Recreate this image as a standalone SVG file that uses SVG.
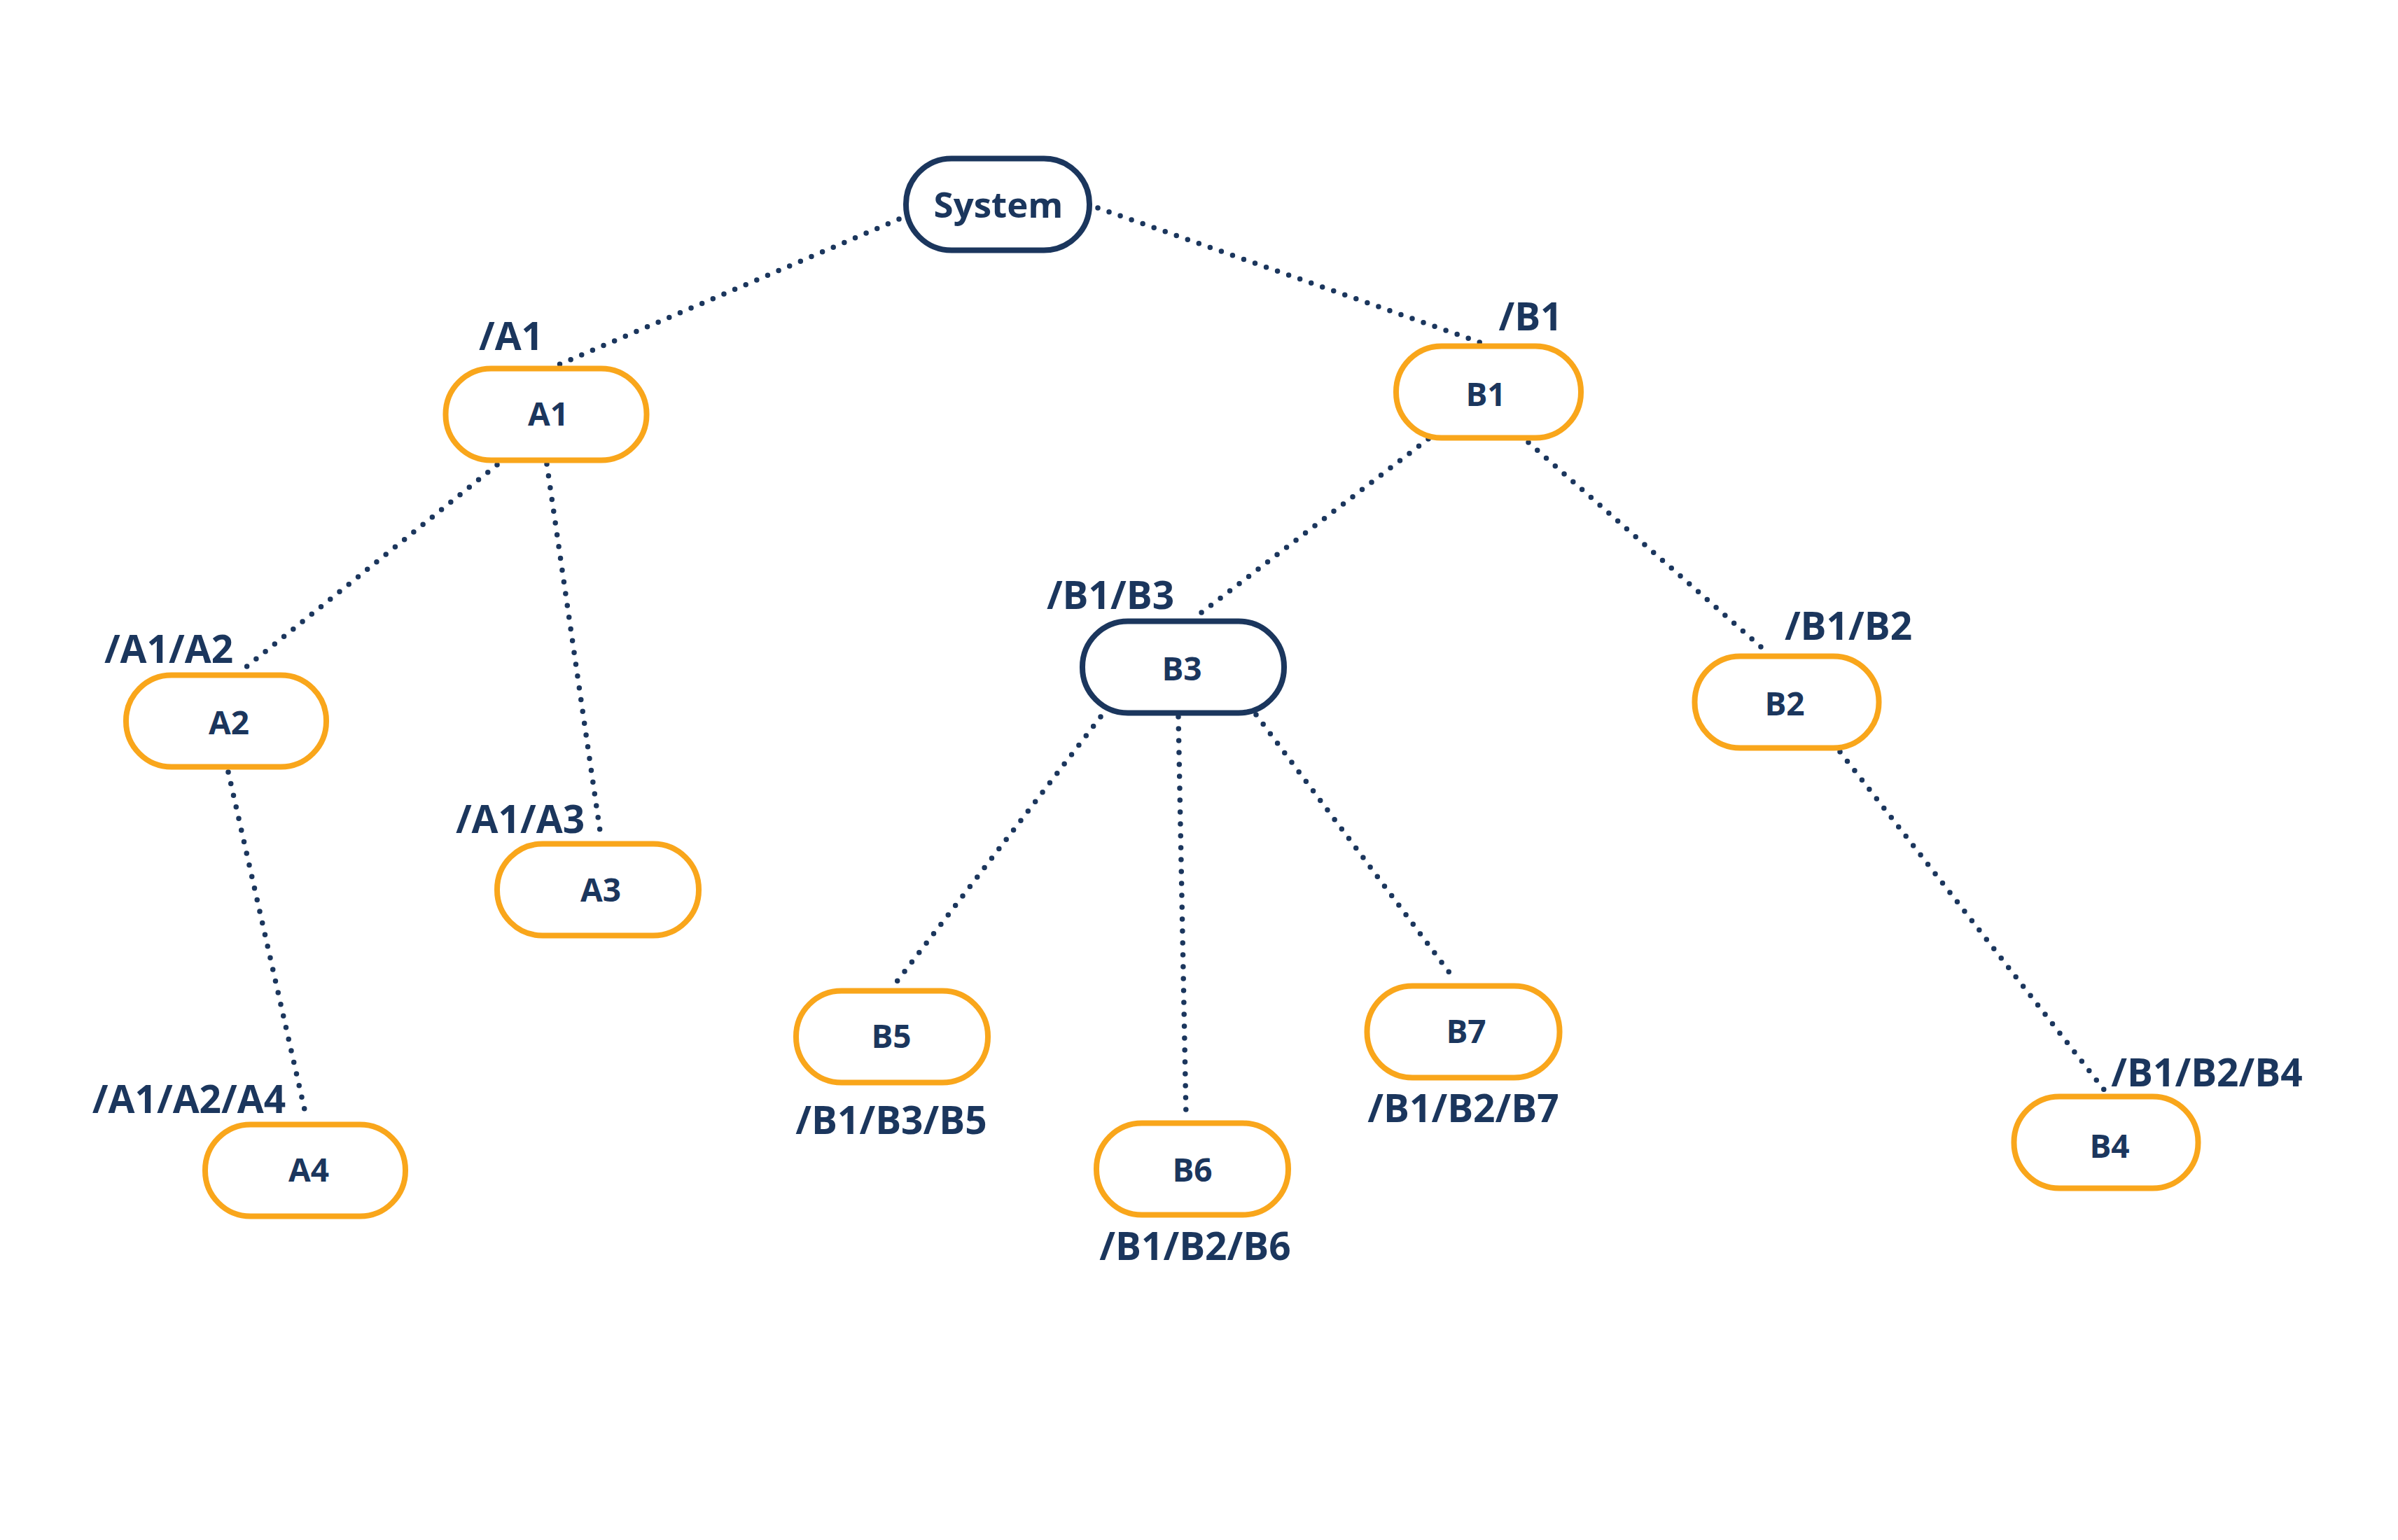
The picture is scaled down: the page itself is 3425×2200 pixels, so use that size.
<svg xmlns="http://www.w3.org/2000/svg" width="3425" height="2200" viewBox="0 0 3425 2200">
<style>
.node{fill:#fff;stroke:#F9A61B;stroke-width:8}
.node.dark{stroke:#1B365D}
.nt{font-family:"Open Sans","Liberation Sans",sans-serif;font-weight:700;font-size:46px;fill:#1B365D;text-anchor:middle}
.sys{font-size:51px}
.lbl{font-family:"Open Sans","Liberation Sans",sans-serif;font-weight:700;font-size:55px;fill:#1B365D;text-anchor:middle}
.edge{stroke:#1B365D;stroke-width:7.5;stroke-linecap:round;stroke-dasharray:0 17;fill:none}
</style>
<rect width="3425" height="2200" fill="#fff"/>
<g id="connectors">
<line class="edge" x1="1284" y1="313" x2="791" y2="524"/>
<line class="edge" x1="1568" y1="297" x2="2122" y2="492"/>
<line class="edge" x1="2040" y1="627" x2="1707" y2="882"/>
<line class="edge" x1="2183" y1="632" x2="2523" y2="931"/>
<line class="edge" x1="710" y1="664" x2="344" y2="959"/>
<line class="edge" x1="781" y1="663" x2="858" y2="1194"/>
<line class="edge" x1="326" y1="1103" x2="437" y2="1594"/>
<line class="edge" x1="1572" y1="1024" x2="1278" y2="1406"/>
<line class="edge" x1="1683" y1="1024" x2="1694" y2="1594"/>
<line class="edge" x1="1794" y1="1021" x2="2075" y2="1396"/>
<line class="edge" x1="2628" y1="1074" x2="3010" y2="1563"/>
</g>
<g id="System">
<rect class="node dark" x="1294" y="226.5" width="262" height="131" rx="65" ry="65"/>
<text class="nt sys" x="1426" y="311">System</text>
</g>
<g id="A1">
<rect class="node" x="636.5" y="526.5" width="287" height="131" rx="65" ry="65"/>
<text class="nt" x="783" y="608">A1</text>
<text class="lbl" x="730" y="500">/A1</text>
</g>
<g id="B1">
<rect class="node" x="1994" y="494.5" width="264" height="131" rx="65" ry="65"/>
<text class="nt" x="2122" y="580">B1</text>
<text class="lbl" x="2186" y="472">/B1</text>
</g>
<g id="A2">
<rect class="node" x="180" y="964.5" width="286" height="131" rx="65" ry="65"/>
<text class="nt" x="327" y="1049">A2</text>
<text class="lbl" x="241" y="947">/A1/A2</text>
</g>
<g id="A3">
<rect class="node" x="710" y="1205.5" width="288" height="131" rx="65" ry="65"/>
<text class="nt" x="858" y="1288">A3</text>
<text class="lbl" x="743" y="1190">/A1/A3</text>
</g>
<g id="A4">
<rect class="node" x="293" y="1606.5" width="286" height="131" rx="65" ry="65"/>
<text class="nt" x="441" y="1688">A4</text>
<text class="lbl" x="270" y="1590">/A1/A2/A4</text>
</g>
<g id="B3">
<rect class="node dark" x="1546" y="887.5" width="288" height="131" rx="65" ry="65"/>
<text class="nt" x="1688" y="972">B3</text>
<text class="lbl" x="1586" y="870">/B1/B3</text>
</g>
<g id="B2">
<rect class="node" x="2420.5" y="937.5" width="263" height="131" rx="65" ry="65"/>
<text class="nt" x="2549" y="1022">B2</text>
<text class="lbl" x="2640" y="914">/B1/B2</text>
</g>
<g id="B5">
<rect class="node" x="1137" y="1415.5" width="274" height="131" rx="65" ry="65"/>
<text class="nt" x="1273" y="1497">B5</text>
<text class="lbl" x="1273" y="1620">/B1/B3/B5</text>
</g>
<g id="B6">
<rect class="node" x="1566" y="1604.5" width="274" height="131" rx="65" ry="65"/>
<text class="nt" x="1703" y="1688">B6</text>
<text class="lbl" x="1707" y="1800">/B1/B2/B6</text>
</g>
<g id="B7">
<rect class="node" x="1952.5" y="1408.5" width="275" height="131" rx="65" ry="65"/>
<text class="nt" x="2094" y="1490">B7</text>
<text class="lbl" x="2090" y="1603">/B1/B2/B7</text>
</g>
<g id="B4">
<rect class="node" x="2876.5" y="1566.5" width="263" height="131" rx="65" ry="65"/>
<text class="nt" x="3013" y="1654">B4</text>
<text class="lbl" x="3152" y="1552">/B1/B2/B4</text>
</g>
</svg>
